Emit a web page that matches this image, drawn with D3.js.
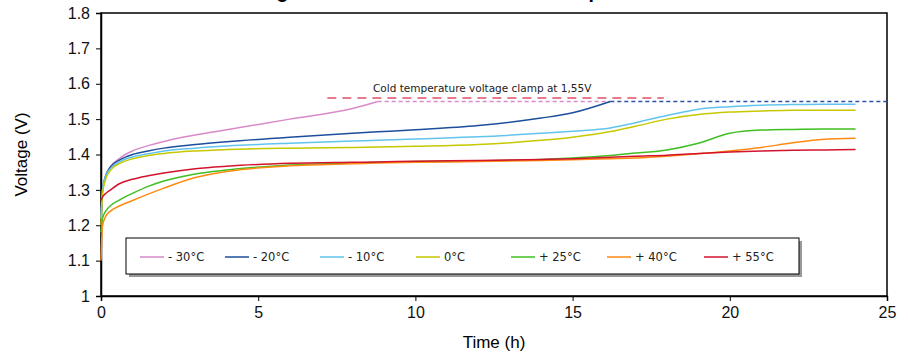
<!DOCTYPE html>
<html>
<head>
<meta charset="utf-8">
<script src="https://cdn.jsdelivr.net/npm/d3@7"></script>
<style>
  body { margin: 0; background: #fff; }
  svg text { font-family: "Liberation Sans Narrow", "Liberation Sans", Arial, sans-serif; }
</style>
</head>
<body>
<div id="chart"></div>
<script>
// data
var hours = [0, 0.05, 0.15, 0.3, 0.6, 1, 1.5, 2, 3, 4, 6, 8, 8.8, 10, 12, 14, 15, 16.2, 17, 18, 19, 20, 21, 22, 23, 24];
var series = ["- 30°C", "- 20°C", "- 10°C", "0°C", "+ 25°C", "+ 40°C", "+ 55°C"];
var colors = ["#d98ac9", "#1b4f9c", "#62c4ee", "#c6c800", "#3fbf22", "#ff8a12", "#d3142c"];
var vMinus30 = [1.22, 1.30, 1.34, 1.365, 1.39, 1.41, 1.425, 1.437, 1.455, 1.47, 1.50, 1.53, 1.55];
var vMinus20 = [1.22, 1.30, 1.34, 1.365, 1.385, 1.40, 1.41, 1.418, 1.428, 1.436, 1.449, 1.46, 1.464, 1.47, 1.482, 1.503, 1.518, 1.55];
var vMinus10 = [1.22, 1.30, 1.34, 1.36, 1.38, 1.393, 1.402, 1.41, 1.418, 1.424, 1.432, 1.438, 1.44, 1.444, 1.45, 1.46, 1.466, 1.475, 1.49, 1.51, 1.528, 1.535, 1.539, 1.541, 1.542, 1.542];
var vZero = [1.20, 1.29, 1.33, 1.355, 1.375, 1.388, 1.397, 1.403, 1.41, 1.414, 1.418, 1.42, 1.421, 1.423, 1.428, 1.44, 1.449, 1.465, 1.48, 1.50, 1.513, 1.52, 1.523, 1.525, 1.525, 1.525];
var vPlus25 = [1.18, 1.22, 1.24, 1.255, 1.272, 1.29, 1.31, 1.325, 1.345, 1.356, 1.37, 1.376, 1.378, 1.38, 1.382, 1.386, 1.39, 1.397, 1.404, 1.413, 1.432, 1.46, 1.469, 1.471, 1.472, 1.472];
var vPlus40 = [1.10, 1.20, 1.225, 1.24, 1.255, 1.27, 1.288, 1.305, 1.335, 1.352, 1.368, 1.374, 1.376, 1.378, 1.38, 1.383, 1.385, 1.388, 1.39, 1.395, 1.402, 1.41, 1.42, 1.433, 1.443, 1.446];
var vPlus55 = [1.27, 1.28, 1.29, 1.30, 1.318, 1.33, 1.34, 1.348, 1.36, 1.367, 1.375, 1.378, 1.379, 1.381, 1.383, 1.386, 1.388, 1.392, 1.395, 1.398, 1.403, 1.407, 1.41, 1.412, 1.413, 1.414];
var xTicks = [0, 5, 10, 15, 20, 25];
var yTicks = [1, 1.1, 1.2, 1.3, 1.4, 1.5, 1.6, 1.7, 1.8];
var clampV = 1.55;
var clampPink = [8.8, 16.2];
var clampBlue = [16.2, 25];
var noteLine = [7.2, 17.9];
var noteV = 1.56;
var noteText = "Cold temperature voltage clamp at 1,55V";
var title = "Charge characteristics at different temperatures";

var allValues = [vMinus30, vMinus20, vMinus10, vZero, vPlus25, vPlus40, vPlus55];

var width = 908, height = 356;
var margin = {left: 101, right: 21, top: 13, bottom: 60};

var svg = d3.select("#chart").append("svg")
    .attr("width", width)
    .attr("height", height);

var x = d3.scaleLinear().domain([0, 25]).range([margin.left, width - margin.right]);
var y = d3.scaleLinear().domain([1, 1.8]).range([height - margin.bottom, margin.top]);

// title, only its descenders show at the top edge
svg.append("text")
    .attr("x", 232)
    .attr("y", -2.5)
    .style("font-family", "Liberation Sans, Arial, sans-serif")
    .style("font-weight", "700")
    .style("font-size", "19.5px")
    .text(title);

// frame
svg.append("rect")
    .attr("x", x(0))
    .attr("y", y(1.8))
    .attr("width", x(25) - x(0))
    .attr("height", y(1) - y(1.8))
    .attr("fill", "none")
    .attr("stroke", "#000")
    .attr("stroke-width", 1.5);

//---------------- axes ----------------
var xAxis = svg.append("g")
    .attr("transform", "translate(0," + y(1) + ")")
    .call(d3.axisBottom(x).tickValues(xTicks).tickSize(5).tickPadding(6).tickFormat(d3.format("d")));
var yAxis = svg.append("g")
    .attr("transform", "translate(" + x(0) + ",0)")
    .call(d3.axisLeft(y).tickValues(yTicks).tickSize(5).tickPadding(6).tickFormat(d => d === 1 ? "1" : d3.format(".1f")(d)));

[xAxis, yAxis].forEach(function(a) {
  a.select(".domain").attr("stroke", "#000").attr("stroke-width", 1.5);
  a.selectAll(".tick line").attr("stroke", "#000");
  a.selectAll(".tick text")
    .style("font-family", "Liberation Sans Narrow, Liberation Sans, Arial, sans-serif")
    .style("font-size", "16px")
    .attr("fill", "#111");
});

svg.append("text")
    .attr("transform", "translate(27," + (y(1.4)) + ") rotate(-90)")
    .attr("text-anchor", "middle")
    .style("font-size", "17px")
    .text("Voltage (V)");

svg.append("text")
    .attr("x", x(12.5))
    .attr("y", 348)
    .attr("text-anchor", "middle")
    .style("font-size", "17px")
    .text("Time (h)");

//---------------- clamp lines ----------------
svg.append("line")
    .attr("x1", x(noteLine[0])).attr("x2", x(noteLine[1]))
    .attr("y1", y(noteV)).attr("y2", y(noteV))
    .attr("stroke", "#e0506a").attr("stroke-width", 1.5)
    .attr("stroke-dasharray", "9,6");

svg.append("text")
    .attr("x", 373)
    .attr("y", 92)
    .style("font-family", "DejaVu Sans, sans-serif")
    .style("font-size", "10.5px")
    .attr("fill", "#222")
    .text(noteText);

svg.append("line")
    .attr("x1", x(clampPink[0])).attr("x2", x(clampPink[1]))
    .attr("y1", y(clampV)).attr("y2", y(clampV))
    .attr("stroke", colors[0]).attr("stroke-width", 1.5)
    .attr("stroke-dasharray", "4,3");

svg.append("line")
    .attr("x1", x(clampBlue[0])).attr("x2", x(clampBlue[1]))
    .attr("y1", y(clampV)).attr("y2", y(clampV))
    .attr("stroke", "#2d55a5").attr("stroke-width", 1.5)
    .attr("stroke-dasharray", "4,3");

//---------------- curves ----------------
var line = d3.line()
    .x(d => x(d[0]))
    .y(d => y(d[1]))
    .curve(d3.curveMonotoneX);

allValues.forEach(function(vals, i) {
  var pts = vals.map((v, j) => [hours[j], v]);
  svg.append("path")
      .attr("d", line(pts))
      .attr("fill", "none")
      .attr("stroke", colors[i])
      .attr("stroke-width", 1.5);
});

//---------------- legend ----------------
var lg = svg.append("g");
lg.append("rect")
    .attr("x", 129).attr("y", 241)
    .attr("width", 673).attr("height", 36)
    .attr("fill", "#999");
lg.append("rect")
    .attr("x", 126).attr("y", 238)
    .attr("width", 673).attr("height", 36)
    .attr("fill", "#fff").attr("stroke", "#000").attr("stroke-width", 1);

var legendX = [140, 225, 320, 416, 511, 607, 704];
series.forEach(function(s, i) {
  lg.append("line")
      .attr("x1", legendX[i]).attr("x2", legendX[i] + 24)
      .attr("y1", 257).attr("y2", 257)
      .attr("stroke", colors[i]).attr("stroke-width", 1.5);
  lg.append("text")
      .attr("x", legendX[i] + 28)
      .attr("y", 261)
      .style("font-family", "DejaVu Sans, sans-serif")
      .style("font-size", "11.5px")
      .attr("fill", "#222")
      .text(s);
});
</script>
</body>
</html>
